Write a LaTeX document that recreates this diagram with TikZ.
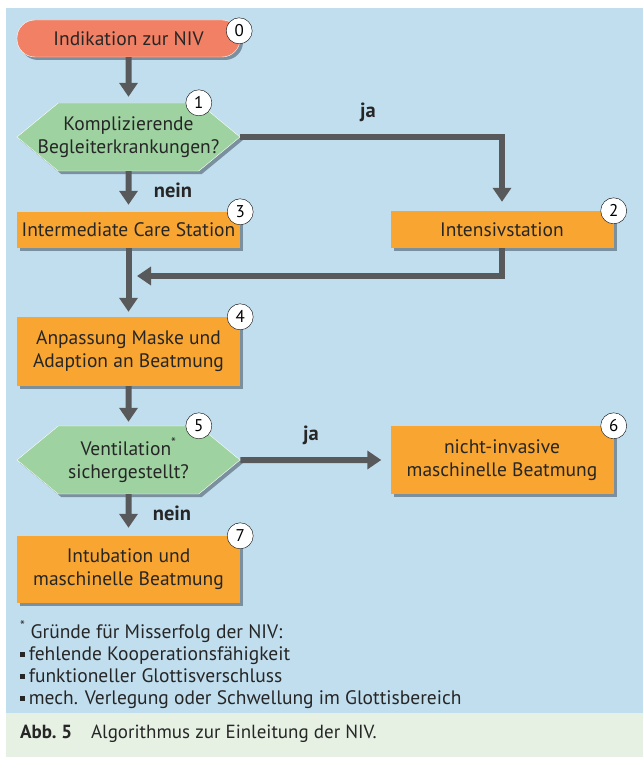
\documentclass[tikz,border=0pt]{standalone}
\usepackage{fontspec}
\setmainfont{PT Sans}
\usetikzlibrary{arrows.meta, shapes.symbols, shadows}
\pgfdeclarelayer{bg}
\pgfsetlayers{bg,main}
\definecolor{bgblue}{RGB}{193,222,238}
\definecolor{capgreen}{RGB}{230,241,228}
\definecolor{startred}{RGB}{241,128,100}
\definecolor{askgreen}{RGB}{158,210,160}
\definecolor{boxorange}{RGB}{248,165,50}
\definecolor{flowgray}{RGB}{88,89,91}
\definecolor{txtgray}{RGB}{38,38,38}
\definecolor{shadowgray}{RGB}{105,125,140}
\newcommand{\sqbullet}{\rule[0.18em]{0.24em}{0.24em}\hspace{0.2em}}
\tikzset{
    every node/.style={text=txtgray, inner sep=0pt,
    	font=\fontsize{19.5}{23}\selectfont},
    boxshadow/.style={drop shadow={shadow xshift=3pt, shadow yshift=-3pt,
    	fill=shadowgray, opacity=.8}},
    start/.style={rectangle, rounded corners=18pt, fill=startred, draw=white,
    	minimum width=223pt, minimum height=37pt, boxshadow},
    ask/.style={signal, signal to=east and west, signal pointer angle=79,
    	fill=askgreen, draw=white, minimum width=223pt, minimum height=68pt,
    	inner xsep=-25pt, align=center, boxshadow},
    act/.style={rectangle, fill=boxorange, minimum width=223pt, align=center,
    	boxshadow},
    num/.style={circle, draw=black, fill=white, minimum size=26pt, anchor=center,
    	text=black, font=\fontsize{17}{17}\selectfont},
    answer/.style={font=\bfseries\fontsize{20.5}{24}\selectfont},
    flow/.style={line width=6pt, draw=flowgray,
    	-{Triangle[width=18pt,length=14pt]}, shorten >=6pt}
}

\begin{document}
\begin{tikzpicture}[x=1pt, y=-1pt]
	\useasboundingbox (0,0) rectangle (643,757);
	\begin{pgfonlayer}{bg}
		\fill[bgblue] (6,8) rectangle (643,713);
		\fill[capgreen] (6,713) rectangle (643,757);
	\end{pgfonlayer}

	\node (0) [start, label={[num, name=c0, xshift=-1pt, yshift=-11pt]north east:0}] at (128.5, 38.5) {Indikation zur NIV};
	\node (1) [ask, label={[num, name=c1]north east:1}] at (128.5, 137) {Komplizierende\\Begleiterkrankungen?};
	\node (2) [act, minimum height=37pt, label={[num, name=c2]north east:2}] at (502, 229.5) {Intensivstation};
	\node (3) [act, minimum height=36pt, label={[num, name=c3]north east:3}] at (128.5, 230) {Intermediate Care Station};
	\node (4) [act, minimum height=69pt, label={[num, name=c4]north east:4}] at (128.5, 351.5) {Anpassung Maske und\\Adaption an Beatmung};
	\node (5) [ask, label={[num, name=c5]north east:5}] at (128.5, 460) {Ventilation\textsuperscript{*}\\sichergestellt?};
	\node (6) [act, minimum height=68pt, label={[num, name=c6]north east:6}] at (502, 460) {nicht-invasive\\maschinelle Beatmung};
	\node (7) [act, minimum height=67pt, label={[num, name=c7]north east:7}] at (128.5, 569.5) {Intubation und\\maschinelle Beatmung};
	\coordinate (join) at (128.5, 276);

	\node (ja1) [answer] at (368, 112) {ja};
	\node (nein1) [answer] at (173, 190) {nein};
	\node (ja2) [answer] at (311, 435) {ja};
	\node (nein2) [answer] at (172, 513) {nein};

	\draw[flow] (0) -- (1);
	\draw[flow, shorten >=7pt] (1) -- (3);
	\draw[flow, shorten >=9pt] (1.east) -| (2.north);
	\draw[flow, shorten >=8.5pt] (2.south) |- (join);
	\draw[flow, shorten >=5pt] (3) -- (4);
	\draw[flow, shorten >=4pt] (4) -- (5);
	\draw[flow, shorten >=9pt] (5) -- (6);
	\draw[flow, shorten >=8pt] (5) -- (7);

	\node (notes) [anchor=north west, align=left, font=\fontsize{19.5}{22}\selectfont] at (20, 621)
		{\textsuperscript{*} Gründe für Misserfolg der NIV:\\
		\sqbullet fehlende Kooperationsfähigkeit\\
		\sqbullet funktioneller Glottisverschluss\\
		\sqbullet mech. Verlegung oder Schwellung im Glottisbereich};
	\node (caption) [anchor=west, font=\fontsize{19}{22}\selectfont] at (20, 734)
		{\textbf{Abb.\ 5}\quad Algorithmus zur Einleitung der NIV.};
\end{tikzpicture}
\end{document}
